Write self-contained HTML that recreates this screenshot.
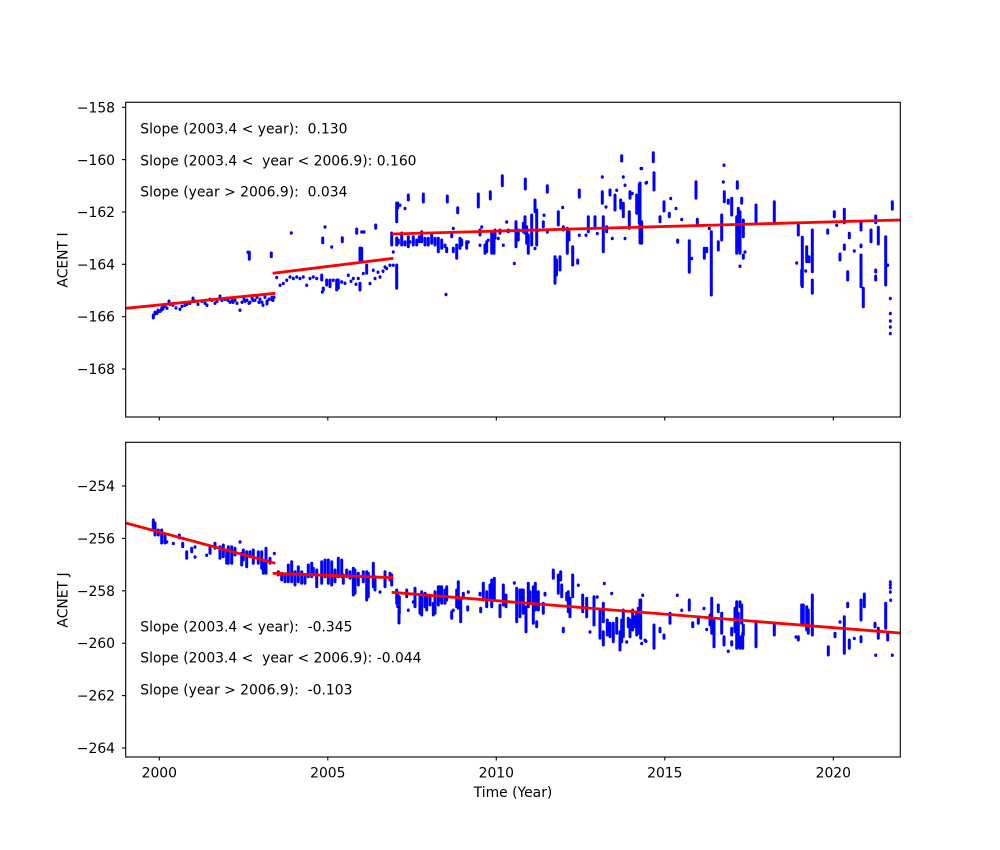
<!DOCTYPE html>
<html><head><meta charset="utf-8"><style>
html,body{margin:0;padding:0;background:#fff;}
svg{display:block;}
text{font-family:"DejaVu Sans","Liberation Sans",sans-serif;font-size:13.9px;fill:#000;}
</style></head><body>
<svg width="1000" height="850" viewBox="0 0 1000 850" xmlns="http://www.w3.org/2000/svg">
<defs>
<clipPath id="c1"><rect x="125.7" y="102.3" width="774.6" height="314.7"/></clipPath>
<clipPath id="c2"><rect x="125.7" y="442.3" width="774.6" height="314.7"/></clipPath>
</defs>
<rect width="1000" height="850" fill="#fff"/>

<!-- TOP PANEL DATA -->
<g clip-path="url(#c1)">
<path fill="none" stroke="#0000ff" stroke-width="3" stroke-linecap="round" d="
M153.3 315V318 M155 312V314 M157 313v.5 M158 310V312 M160 311v.5 M161.7 308V310 M163 307V309 M165 306v.5 M167 308v.5 M169 301V304 M170 304v.5 M173 305v.5 M176 307.7v.5 M180 309v.5 M182 306v.5 M185 305v.5 M187 304v.5 M190 303v.5 M193 298V300 M195 301v.5 M198 304v.5 M202 301v.5 M205 303v.5 M207 305v.5 M210 299v.5 M212 300v.5 M215 303v.5 M217 301v.5 M220 296V299 M222 300v.5 M225 299v.5 M227 298v.5 M230 302v.5 M232 300v.5 M235 300v.5 M237 303v.5 M240 310v.5 M242 302v.5 M244 299v.5 M247 300v.5 M249 303v.5 M250 302v.5 M252 298v.5 M255 300v.5 M257 297v.5 M259 302v.5 M262 302v.5 M263 305v.5 M265 297v.5 M267 301V304 M269 299v.5 M272 297V300 M273 300v.5 M274 297v.5 M245 301v.5 M253 300v.5 M260 299v.5 M233 302v.5 M228 300v.5
M249.3 252.3V259.3 M248 252v.5 M271.3 253V256.7
M276.7 277.3v.5 M280 285v.5 M283.3 283.3v.5 M286.7 280v.5 M290 276.7v.5 M293.3 278.3v.5 M296.7 276.7v.5 M300 278.3v.5 M303.3 276.7v.5 M306.7 285v.5 M310 278.3v.5 M313.3 276.7v.5 M316.7 278.3v.5 M321.7 275V280 M322.3 291.7v.5 M323.3 288V290 M326.7 280V285 M330 280V286.7 M333.3 280v.5 M336.7 280V290 M338.3 280V288.3 M341.7 281.7v.5 M345 283v.5 M348.3 275v.5 M351 281v.5 M353.3 278.3v.5 M356 284v.5 M358.3 278.3v.5 M360 283.3V290 M360 248V260 M361.7 248.3V261.7 M363.3 273.3v.5 M366.7 265V273.3 M370 283.3v.5 M373.3 270v.5 M375 278.3v.5 M378 272v.5 M380 276.7v.5 M383 271v.5 M385 266.7v.5 M386.7 268.3v.5 M390 265v.5 M393.3 265v.5
M291.3 232.7v.5 M322.7 238V242.7 M325 226.7v.5 M331.7 246.7v.5 M342.3 237.7V241.7 M356.7 229V233.3 M361.7 231.7v.5 M364 231.7v.5 M375.7 225V228.3 M391.7 233V238
M396.7 203V221.7 M396.7 265V288.3 M397.7 203V208 M400 205v.5 M405 208.3v.5 M393.3 251.7v.5 M446 294.3v.5
M391.7 236.7V245 M396.7 238V245 M398.3 240V243.3 M401.7 233V245 M405 241.7V245 M408.3 236.7V246.7 M410 241.7v.5 M413.3 236.7V245 M416.7 240V245 M419.3 236.7V241.7 M421.7 231.7V241.7 M425 238.3V245 M428.3 238.3V245 M431.7 235V243.3 M435 238.3V245 M438.3 238.3V251.7 M441.7 240V248.3 M445 245V246.7 M446.7 248.3V251.7 M451.7 233.3V236.7 M453.3 228.3v.5 M453.3 248.3V251.7 M456.7 245V258.3 M460 238.3V248.3 M461.7 240V245 M466.7 241.7V248.3 M468.3 241.7v.5 M480 230V235 M481.7 226.7v.5 M480 245v.5 M485 245V253.3 M486.7 241.7V251.7 M488.3 240v.5 M491.7 231.7V253.3 M494 233.3V253.3 M495 230V238.3 M498.3 238.3v.5 M500 230V233.3 M503.3 245v.5 M506.7 221.7v.5 M508.3 230V231.7 M514.3 263.3v.5 M516 221.7V246.7 M518.3 230V240 M523.3 223.3V231.7 M525 216.7V233.3 M526.7 226.7V243.3 M528.3 235V253.3 M531.7 215V245 M535 200V211.7 M536.7 210V245 M535 248.3v.5 M538 230v.5 M544 215v.5 M543.3 221.7V226.7 M547.3 231.7v.5 M555 256.7V283.3 M556.5 260V275 M558.3 211.7V225 M560 256.7V270 M562.7 207.3v.5 M563.3 226.7V230 M567.3 228.3V253.3 M569 232V240 M572.7 246.7V265 M577.7 260V263.3 M579.3 235v.5 M588.3 216.7V231.7 M586 235v.5 M595 216.7V228.3 M597.3 233.3v.5 M602.3 191.7V203.3 M603.3 216.7V251.7 M606 206.7v.5 M606.7 226.7V231.7 M610 190V195 M612.3 238.3v.5 M615 195V210 M616.7 190v.5 M620.7 200V208.3 M623.3 203.3V216.7 M625 185v.5 M625 238.3v.5 M629.3 211.7V228.3 M630 191.7V198.3 M632.3 193.3v.5 M636.7 195V213.3 M639.3 184.3V223.3 M641.7 221.7V243.3
M408.3 195V200 M423.3 194V202 M447.3 196V202 M457.7 207.7V212.7 M478.3 194V207 M490.3 191.7V199 M502.3 175.7V185.7 M525.3 179V189 M547.3 185.7V192.3 M579.3 190V197.3 M602.3 176.7v.5 M621.7 155.7V161 M641 168.3v.5 M623.3 176.7v.5 M646 182.7v.5
M653.3 152.7V161.7 M654 172.7V190 M641.7 168.3v.5 M646.7 182.3v.5 M640 183V243 M660 216.7V221.7 M664 201.7V211 M669.3 213.3V216.7 M670.7 198.3v.5 M676 208.3v.5 M677.7 240V242.3 M681.7 219.3v.5 M689.3 240.7V272.3 M691.7 258.3v.5 M696 181.7V198.3 M697.3 219.3V223.3 M704.3 248.3V258.3 M706.7 248.3V251.7 M709.3 228.3v.5 M711.3 231.7V295 M718.3 241.7V250 M721.7 215V240 M724 165v.5 M723.3 181.7v.5 M724.3 191.7V201.7 M728.3 200V203.3 M731.7 198.3V215 M737.3 181.7V188.3 M736.7 216.7V253.3 M738.3 208.3V250 M740 211.7V253.3 M741.7 198.3V203.3 M743.3 220V236.7 M745 251.7v.5 M743.3 255V258.3 M740 266v.5 M756 205V221.7 M774.3 201.7V221.7
M798.3 225V235 M796.7 262.7v.5 M802.3 237.3V286.7 M801.7 270V285 M805.7 270.7v.5 M806.7 246.7V261.7 M809 256.7V261.7 M812.3 230V271.7 M812.3 280V293.3 M827.7 230V233.3 M834.3 211.7V216.7 M836.7 225v.5 M844.3 209.3V222.7 M849.3 233.3V237.7 M844.3 245V249.3 M840 254V260 M854.3 250.7v.5 M861 221.7V230 M861 245V246.7 M861 255V286.7 M863.3 288.3V306.7 M847.7 271.7V280 M871 230V241.7 M875.7 216V222.7 M878.3 227.3V244 M875.7 270V272 M875.7 276V280 M885.7 236.7V285 M887.7 265v.5 M892.3 201.7V209.3 M890.3 298.3v.5 M890.3 313.3v.5 M890.3 320.7v.5 M890.3 326.7v.5 M890.3 333.3v.5
"/>
<g stroke="#ff0000" stroke-width="2.8" fill="none">
<line x1="125.7" y1="308.3" x2="275.3" y2="293.3"/>
<line x1="272.7" y1="273.3" x2="393.3" y2="258.3"/>
<line x1="391.7" y1="234" x2="900.3" y2="220"/>
</g>
</g>

<!-- BOTTOM PANEL DATA -->
<g clip-path="url(#c2)">
<path fill="none" stroke="#0000ff" stroke-width="3" stroke-linecap="round" d="
M153.3 520V530 M155 523V535 M158.3 530V535 M161.7 530V543 M165 535V543 M166.7 541.7v.5 M173.3 543.3v.5 M179.3 535V538 M182.7 543.3V546.7 M183.3 538.3v.5 M186.7 551.7V558.3 M191.7 548.3V551.7 M195 546.7v.5 M195 556.7v.5 M206.7 555v.5 M210 546.7V553.3 M215 543.3V548.3 M220 546.7V558.3 M223.3 545V556.7 M226.7 551.7V563.3 M228.3 546.7V563.3 M231.7 546.7V563.3 M235 548.3V555 M240 541.7v.5 M241.7 553.3V565 M243.3 550V560 M246.7 551.7V566.7 M250 551.7V556.7 M253.3 550V563.3 M258.3 551.7V563.3 M261.7 551.7V568.3 M263.3 563.3V573.3 M266 548.3V573.3 M270 558.3V563.3 M274.3 553.3v.5
M278.3 571.7V575 M281.7 573.3V580 M285 575V581.7 M288.3 565V581.7 M291.7 561.7V581.7 M295 571.7V585 M298.3 566.7V581.7 M301.7 571.7V583.3 M305 576.7V583.3 M308.3 565V576.7 M311.7 563.3V576.7 M313.3 568.3V573.3 M316.7 570V586.7 M321.7 561.7V583.3 M325 560V576.7 M328.3 560V583.3 M331.7 561.7V585 M335 570V581.7 M338.3 558.3V576.7 M341.7 560V576.7 M343.3 575V583.3 M346.7 570V576.7 M350 571.7V578.3 M353.3 568.3V595 M355 570V593.3 M358.3 573.3V585 M363.3 571.7V581.7 M366.7 571.7V600 M368.3 573.3V596.7 M373.3 563.3V586.7 M375 576.7V590 M380 591.7v.5 M385 571.7V586.7 M390 573.3V580 M397.7 593V606.7 M399 610V623
M391.7 575V585 M396.7 590V603.3 M399.3 596.7V613.3 M406.7 590V596.7 M408.3 610v.5 M413.3 601.7v.5 M415 588.3V606.7 M420 596.7V613.3 M421.7 591.7V615 M425 593.3V606.7 M426.7 595V610 M430 596.7V605 M433.3 603.3V615 M435 591.7V613.3 M438.3 586.7V605 M440 586.7V600 M441.7 586.7V603.3 M445 590V603.3 M446.7 586.7V600 M451.7 611.7V618.3 M453.3 610v.5 M456.7 590V606.7 M458.3 581.7V608.3 M460.7 600V621.7 M463.3 593.3V598.3 M468.3 591.7v.5 M467.7 606.7V610 M480 593.3V595 M480.7 608.3V611.7 M483.3 583.3V600 M486.7 591.7V606.7 M490 585V598.3 M491.7 580V606.7 M494.3 578.3V600 M500 605V616.7 M503.3 585V605 M506 595V606.7 M514.3 582.7v.5 M516.7 588.3V621.7 M520 590V616.7 M521.7 590V603.3 M523.3 590V613.3 M526 606.7V631.7 M528.3 583.3V606.7 M530 591.7V603.3 M533.3 586.7V623.3 M535.3 583.3V610 M536.7 621.7V626.7 M538.3 591.7V610 M543.3 603.3V613.3 M545 593.3V595 M553.3 570V578.3 M558.3 575V593.3 M560.7 571.7V580 M561.7 585V596.7 M563.3 628.3V631.7 M566.7 593.3V600 M568.3 591.7V611.7 M570 598.3V616.7 M572.7 575V596.7 M578.3 585v.5 M582.7 595V611.7 M586.7 598.3V616.7 M590 631.7v.5 M594 596.7V625 M597.3 596.7v.5 M600 610V638.3 M603.3 603.3V621.7 M603.3 631.7V645 M604.3 583.3v.5 M607.3 620V635 M610 623.3V636.7 M611.7 593.3v.5 M613.3 623.3V641.7 M616.7 618.3V633.3 M620 631.7V650 M621.7 620V641.7 M623.3 610V636.7 M626.7 641.7v.5 M628.3 618.3V626.7 M630 620V636.7 M632.7 610V630 M635 616.7V626.7 M636.7 613.3V635 M638.3 608.3V633.3 M640.7 600V638.3 M645 640v.5 M641.7 643.3v.5
M640 600V630 M642.7 595v.5 M646 641v.5 M654 625V648.3 M660 628.3V631.7 M664 635V638.3 M670 613.3V623.3 M677.3 595v.5 M681.7 610v.5 M689.3 600V610 M692.7 622.7V626.7 M698.3 618.3V623.3 M704 608.3v.5 M706.7 629.3v.5 M710 615V625 M711.7 598.3V633.3 M714 620V646.7 M718.3 605V611.7 M721.7 613.3V633.3 M724 636.7V645 M728.3 651v.5 M731.7 628.3V635 M731.7 641.7V645 M735 608.3V631.7 M736.7 601.7V648.3 M738.3 613.3V646.7 M740 601.7V606.7 M741.7 605V623.3 M743.3 625V635 M740 636.7V648.3 M742.7 633.3V648.3 M756 623.3V646.7 M774.3 623.3V635 M796 636.7v.5 M798.3 636.7V640 M801.7 605V623.3 M803.3 605V625 M806.7 606.7V630 M808.3 610V633.3 M812.3 595V635 M828.3 646.7V655 M835 633.3V636.7 M840 621.7v.5 M844.3 616.7V653.3 M847.7 603.3V606.7 M849.3 640V648.3 M854.3 638.3v.5 M861 600V620 M861 636.7V641.7 M864.3 594V606.7 M875 623.3V626.7 M875.7 655v.5 M878.3 628.3V638.3 M885.7 603.3V628.3 M887.7 633.3V640 M890.3 581.7v.5 M890.3 584.5v.5 M890.3 587.5v.5 M890.3 591.7v.5 M890.7 600v.5 M892.3 655v.5
"/>
<g stroke="#ff0000" stroke-width="2.8" fill="none">
<line x1="125.7" y1="523" x2="275.3" y2="563.3"/>
<line x1="272.7" y1="573.3" x2="393.3" y2="577.7"/>
<line x1="391.7" y1="592.3" x2="900.3" y2="633"/>
</g>
</g>

<!-- AXES FRAMES -->
<g fill="none" stroke="#000" stroke-width="1.1">
<rect x="125.7" y="102.3" width="774.6" height="314.7"/>
<rect x="125.7" y="442.3" width="774.6" height="314.7"/>
</g>

<!-- TICKS -->
<g stroke="#000" stroke-width="1.1">
<line x1="159.3" y1="417" x2="159.3" y2="420.5"/>
<line x1="327.8" y1="417" x2="327.8" y2="420.5"/>
<line x1="496.3" y1="417" x2="496.3" y2="420.5"/>
<line x1="664.8" y1="417" x2="664.8" y2="420.5"/>
<line x1="833.3" y1="417" x2="833.3" y2="420.5"/>
<line x1="159.3" y1="757" x2="159.3" y2="760.5"/>
<line x1="327.8" y1="757" x2="327.8" y2="760.5"/>
<line x1="496.3" y1="757" x2="496.3" y2="760.5"/>
<line x1="664.8" y1="757" x2="664.8" y2="760.5"/>
<line x1="833.3" y1="757" x2="833.3" y2="760.5"/>
<line x1="122" y1="107.3" x2="125.7" y2="107.3"/>
<line x1="122" y1="159.6" x2="125.7" y2="159.6"/>
<line x1="122" y1="212" x2="125.7" y2="212"/>
<line x1="122" y1="264.3" x2="125.7" y2="264.3"/>
<line x1="122" y1="316.7" x2="125.7" y2="316.7"/>
<line x1="122" y1="369" x2="125.7" y2="369"/>
<line x1="122" y1="486" x2="125.7" y2="486"/>
<line x1="122" y1="538.4" x2="125.7" y2="538.4"/>
<line x1="122" y1="590.8" x2="125.7" y2="590.8"/>
<line x1="122" y1="643.2" x2="125.7" y2="643.2"/>
<line x1="122" y1="695.6" x2="125.7" y2="695.6"/>
<line x1="122" y1="748" x2="125.7" y2="748"/>
</g>

<!-- TICK LABELS -->
<g text-anchor="end">
<text x="115" y="112.3">−158</text>
<text x="115" y="165">−160</text>
<text x="115" y="217">−162</text>
<text x="115" y="269.3">−164</text>
<text x="115" y="321.7">−166</text>
<text x="115" y="374">−168</text>
<text x="115" y="491">−254</text>
<text x="115" y="543.4">−256</text>
<text x="115" y="595.8">−258</text>
<text x="115" y="648.2">−260</text>
<text x="115" y="700.6">−262</text>
<text x="115" y="753">−264</text>
</g>
<g text-anchor="middle">
<text x="159.3" y="777.3">2000</text>
<text x="327.8" y="777.3">2005</text>
<text x="496.3" y="777.3">2010</text>
<text x="664.8" y="777.3">2015</text>
<text x="833.3" y="777.3">2020</text>
<text x="513" y="797">Time (Year)</text>
<text x="0" y="0" transform="translate(67.3,260) rotate(-90)">ACENT I</text>
<text x="0" y="0" transform="translate(67.3,600) rotate(-90)">ACNET J</text>
</g>

<!-- ANNOTATIONS -->
<g>
<text x="140.3" y="133.3" xml:space="preserve">Slope (2003.4 &lt; year):  0.130</text>
<text x="140.3" y="165.3" xml:space="preserve">Slope (2003.4 &lt;  year &lt; 2006.9): 0.160</text>
<text x="140.3" y="196.3" xml:space="preserve">Slope (year &gt; 2006.9):  0.034</text>
<text x="140.3" y="631.3" xml:space="preserve">Slope (2003.4 &lt; year):  -0.345</text>
<text x="140.3" y="662.3" xml:space="preserve">Slope (2003.4 &lt;  year &lt; 2006.9): -0.044</text>
<text x="140.3" y="694.3" xml:space="preserve">Slope (year &gt; 2006.9):  -0.103</text>
</g>
</svg>
</body></html>
